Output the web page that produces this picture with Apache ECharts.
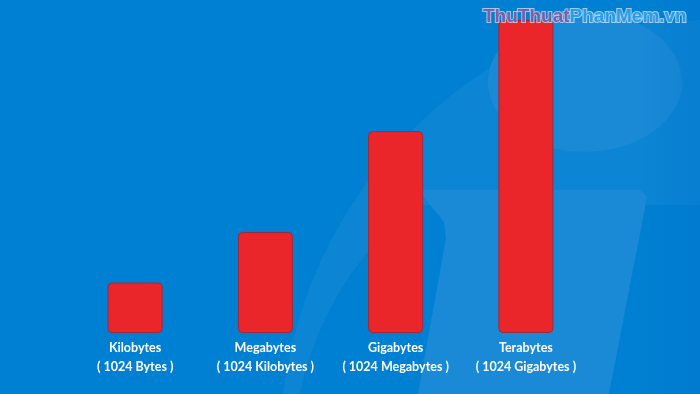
<!DOCTYPE html>
<html>
<head>
<meta charset="utf-8">
<script src="https://cdn.jsdelivr.net/npm/echarts@6/dist/echarts.min.js"></script>
<style>html,body{margin:0;padding:0;background:#0080d2;}#c{width:700px;height:394px;}</style>
</head>
<body>
<div id="c"></div>
<script>
const categories = ['Kilobytes', 'Megabytes', 'Gigabytes', 'Terabytes'];
const subLabels = ['( 1024 Bytes )', '( 1024 Kilobytes )', '( 1024 Megabytes )', '( 1024 Gigabytes )'];
const values = [1, 2, 4, 6.2];

function bez(p0, p1, p2, p3, n) {
  const pts = [];
  for (let i = 0; i <= n; i++) {
    const t = i / n, u = 1 - t;
    pts.push([
      u*u*u*p0[0] + 3*u*u*t*p1[0] + 3*u*t*t*p2[0] + t*t*t*p3[0],
      u*u*u*p0[1] + 3*u*u*t*p1[1] + 3*u*t*t*p2[1] + t*t*t*p3[1]
    ]);
  }
  return pts;
}
const outer = bez([283,394],[300,260],[380,110],[560,30],30).concat([[700,20],[700,394]]);
const inner = bez([300,394],[320,300],[370,240],[420,205],20).concat([[700,205],[700,394]]);

const chart = echarts.init(document.getElementById('c'));
const option = {
  backgroundColor: '#0080d2',
  animation: false,
  graphic: [
    { type: 'polygon', z: -10, shape: { points: outer }, style: { fill: '#0b85d4' } },
    { type: 'polygon', z: -9, shape: { points: inner }, style: { fill: '#0080d2' } },
    { type: 'circle', z: -8, x: 585, y: 82, scaleY: 0.72, shape: { cx: 0, cy: 0, r: 97 }, style: { fill: '#1a8ad7' } },
    { type: 'polygon', z: -8, shape: { points: [[418,190],[640,190],[647,197],[609,394],[418,394],[446,238],[444,222]] }, style: { fill: '#1a8ad7' } },
    { type: 'rect', z: -7, shape: { x: 640, y: 0, width: 60, height: 394 }, style: { fill: new echarts.graphic.LinearGradient(0, 0, 1, 0, [{ offset: 0, color: 'rgba(0,110,200,0)' }, { offset: 1, color: 'rgba(0,110,200,0.3)' }]) } },
    {
      type: 'text', z: 100, x: 483, y: 7,
      style: {
        text: '{a|ThuThuat}{b|PhanMem.vn}',
        rich: {
          a: { fontSize: 19, fontWeight: 'bold', fontFamily: 'Liberation Sans', fill: '#7a5ea8', stroke: 'rgba(200,215,240,0.8)', lineWidth: 2 },
          b: { fontSize: 19, fontWeight: 'bold', fontFamily: 'Liberation Sans', fill: '#2c9be6', stroke: 'rgba(200,225,250,0.8)', lineWidth: 2 }
        }
      }
    }
  ],
  grid: { left: 70, right: 109, top: 20, bottom: 61 },
  xAxis: {
    type: 'category',
    data: categories,
    axisLine: { show: false },
    axisTick: { show: false },
    axisLabel: {
      margin: 5,
      interval: 0,
      formatter: function (v, i) { return '{a|' + v + '}\n{a|' + subLabels[i] + '}'; },
      rich: { a: { color: '#ffffff', fontSize: 12.5, fontFamily: 'Lato', fontWeight: 'bold', lineHeight: 19 } }
    }
  },
  yAxis: { type: 'value', min: 0, max: 6.2, show: false, splitLine: { show: false } },
  series: [{
    type: 'bar',
    data: values,
    barWidth: 55,
    itemStyle: { color: '#ea262b', borderColor: '#9c2a3c', borderWidth: 1, borderRadius: 4 }
  }]
};
chart.setOption(option);
</script>
</body>
</html>
